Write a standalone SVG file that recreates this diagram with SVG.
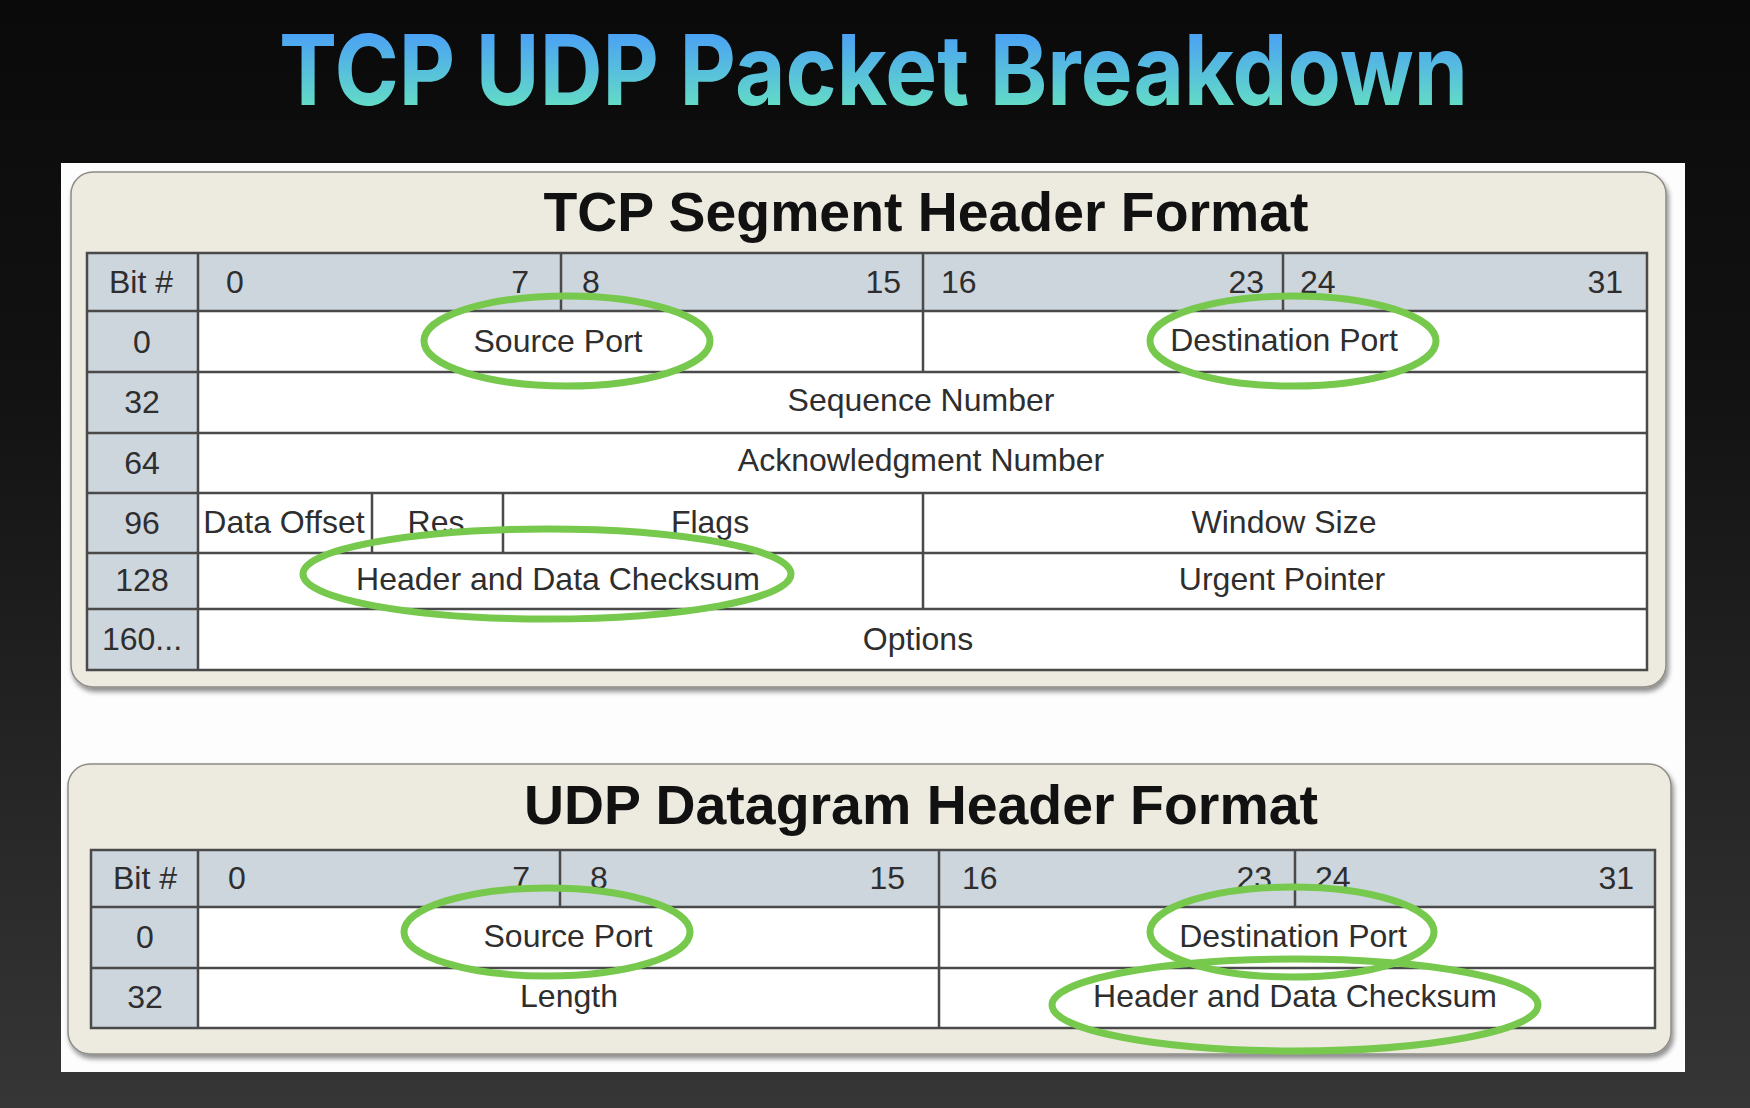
<svg xmlns="http://www.w3.org/2000/svg" width="1750" height="1108" viewBox="0 0 1750 1108">
  <defs>
    <linearGradient id="bg" x1="0" y1="0" x2="0" y2="1">
      <stop offset="0" stop-color="#0a0a0a"/>
      <stop offset="0.35" stop-color="#121212"/>
      <stop offset="1" stop-color="#363636"/>
    </linearGradient>
    <linearGradient id="titleGrad" gradientUnits="userSpaceOnUse" x1="0" y1="30" x2="0" y2="106">
      <stop offset="0" stop-color="#4a9ef6"/>
      <stop offset="1" stop-color="#63dcc6"/>
    </linearGradient>
    <filter id="shadow" x="-5%" y="-5%" width="110%" height="120%">
      <feDropShadow dx="2" dy="4" stdDeviation="2.5" flood-color="#000" flood-opacity="0.45"/>
    </filter>
  </defs>
  <style>
    .box {fill:#edeae0; stroke:#8e8c86; stroke-width:1.5;}
    .hdr {fill:#cdd5dd;}
    .cell {fill:#ffffff;}
    .grid {stroke:#4a4a4a; stroke-width:2.5; fill:none;}
    .t {font-family:"Liberation Sans", Arial, sans-serif; font-size:32px; fill:#2e2e2e;}
    .c {text-anchor:middle;}
    .e {text-anchor:end;}
    .h1 {font-family:"Liberation Sans", Arial, sans-serif; font-weight:bold; font-size:55px; fill:#111; text-anchor:middle;}
    .ring {fill:none; stroke:#76c94c; stroke-width:7;}
  </style>

  <!-- page background -->
  <rect x="0" y="0" width="1750" height="1108" fill="url(#bg)"/>

  <!-- heading -->
  <g id="title">
    <text x="279" y="105" font-family="Inter, 'Liberation Sans', sans-serif" font-weight="700" font-size="98" fill="url(#titleGrad)" textLength="1189" lengthAdjust="spacingAndGlyphs">TCP UDP Packet Breakdown</text>
  </g>

  <!-- white sheet -->
  <rect id="sheet" x="61" y="163" width="1624" height="909" fill="#fdfdfd"/>

  <!-- TCP segment header -->
  <g id="tcp">
    <rect class="box" x="71" y="172" width="1595" height="515" rx="22" filter="url(#shadow)"/>
    <text class="h1" x="926" y="231" textLength="765" lengthAdjust="spacingAndGlyphs">TCP Segment Header Format</text>

    <g id="tcp-table">
      <rect class="hdr" x="87" y="253" width="1560" height="58"/>
      <rect class="hdr" x="87" y="311" width="111" height="359"/>
      <rect class="cell" x="198" y="311" width="1449" height="359"/>
      <g class="grid">
        <rect x="87" y="253" width="1560" height="417"/>
        <path d="M87 311H1647M87 372H1647M87 433H1647M87 493H1647M87 553H1647M87 609H1647"/>
        <path d="M198 253V670M561 253V311M923 253V372M923 493V609M1283 253V311M372 493V553M503 493V553"/>
      </g>

      <!-- bit ruler -->
      <text class="t c" x="141" y="293">Bit #</text>
      <text class="t" x="226" y="293">0</text>
      <text class="t e" x="529" y="293">7</text>
      <text class="t" x="582" y="293">8</text>
      <text class="t e" x="901" y="293">15</text>
      <text class="t" x="941" y="293">16</text>
      <text class="t e" x="1264" y="293">23</text>
      <text class="t" x="1300" y="293">24</text>
      <text class="t e" x="1623" y="293">31</text>

      <!-- row offsets -->
      <text class="t c" x="142" y="353">0</text>
      <text class="t c" x="142" y="413">32</text>
      <text class="t c" x="142" y="474">64</text>
      <text class="t c" x="142" y="534">96</text>
      <text class="t c" x="142" y="591">128</text>
      <text class="t c" x="142" y="650">160...</text>

      <!-- fields -->
      <text class="t c" x="558" y="352">Source Port</text>
      <text class="t c" x="1284" y="351">Destination Port</text>
      <text class="t c" x="921" y="411">Sequence Number</text>
      <text class="t c" x="921" y="471">Acknowledgment Number</text>
      <text class="t c" x="284" y="533">Data Offset</text>
      <text class="t c" x="436" y="533">Res</text>
      <text class="t c" x="710" y="533">Flags</text>
      <text class="t c" x="1284" y="533">Window Size</text>
      <text class="t c" x="558" y="590">Header and Data Checksum</text>
      <text class="t c" x="1282" y="590">Urgent Pointer</text>
      <text class="t c" x="918" y="650">Options</text>
    </g>
  </g>

  <!-- UDP datagram header -->
  <g id="udp">
    <rect class="box" x="68" y="764" width="1603" height="290" rx="22" filter="url(#shadow)"/>
    <text class="h1" x="921" y="824" textLength="794" lengthAdjust="spacingAndGlyphs">UDP Datagram Header Format</text>

    <g id="udp-table">
      <rect class="hdr" x="91" y="850" width="1564" height="57"/>
      <rect class="hdr" x="91" y="907" width="107" height="121"/>
      <rect class="cell" x="198" y="907" width="1457" height="121"/>
      <g class="grid">
        <rect x="91" y="850" width="1564" height="178"/>
        <path d="M91 907H1655M91 968H1655"/>
        <path d="M198 850V1028M560 850V907M939 850V1028M1295 850V907"/>
      </g>

      <text class="t c" x="145" y="889">Bit #</text>
      <text class="t" x="228" y="889">0</text>
      <text class="t e" x="530" y="889">7</text>
      <text class="t" x="590" y="889">8</text>
      <text class="t e" x="905" y="889">15</text>
      <text class="t" x="962" y="889">16</text>
      <text class="t e" x="1272" y="889">23</text>
      <text class="t" x="1315" y="889">24</text>
      <text class="t e" x="1634" y="889">31</text>

      <text class="t c" x="145" y="948">0</text>
      <text class="t c" x="145" y="1008">32</text>

      <text class="t c" x="568" y="947">Source Port</text>
      <text class="t c" x="1293" y="947">Destination Port</text>
      <text class="t c" x="569" y="1007">Length</text>
      <text class="t c" x="1295" y="1007">Header and Data Checksum</text>
    </g>
  </g>

  <!-- green highlight rings -->
  <g id="highlights">
    <ellipse class="ring" cx="567" cy="341" rx="143" ry="45"/>
    <ellipse class="ring" cx="1293" cy="341" rx="143" ry="45"/>
    <ellipse class="ring" cx="547" cy="574" rx="244" ry="45"/>
    <ellipse class="ring" cx="547" cy="932" rx="143" ry="44"/>
    <ellipse class="ring" cx="1292" cy="932" rx="142" ry="45"/>
    <ellipse class="ring" cx="1295" cy="1005" rx="243" ry="46"/>
  </g>
</svg>
